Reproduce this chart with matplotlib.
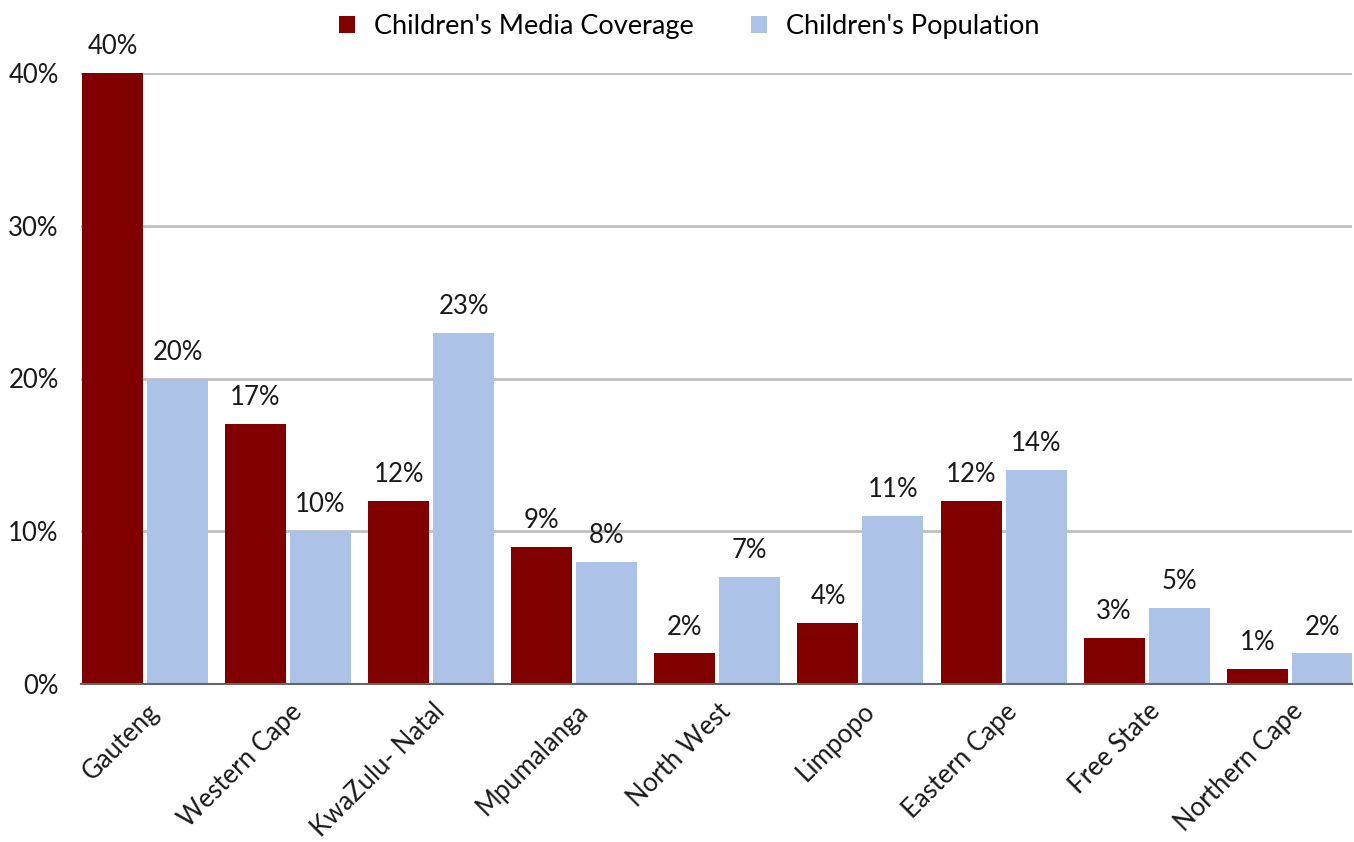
import numpy as np
import matplotlib.pyplot as plt
import matplotlib.transforms as mtransforms

provinces = ["Gauteng", "Western Cape", "KwaZulu- Natal", "Mpumalanga", "North West",
             "Limpopo", "Eastern Cape", "Free State", "Northern Cape"]
media_coverage = [40, 17, 12, 9, 2, 4, 12, 3, 1]
population = [20, 10, 23, 8, 7, 11, 14, 5, 2]
y_ticks = [0, 10, 20, 30, 40]

RED = "#800000"
BLUE = "#acc2e6"
TXT = "#1a1a1a"
FS = 18.5
plt.rcParams['font.family'] = ['Lato', 'DejaVu Sans']

fig = plt.figure(figsize=(13.54, 8.42), dpi=100)
ax = fig.add_axes([81 / 1354, 1 - 684 / 842, 1271 / 1354, 611 / 842])

x = np.arange(len(provinces))
w = 0.426
off = 0.227
b1 = ax.bar(x - off, media_coverage, w, color=RED, label="Children's Media Coverage", zorder=3)
b2 = ax.bar(x + off, population, w, color=BLUE, label="Children's Population", zorder=3)

# value labels above each bar
for bars, vals in [(b1, media_coverage), (b2, population)]:
    for bar, v in zip(bars, vals):
        ax.annotate(f"{v}%", (bar.get_x() + bar.get_width() / 2, v),
                    xytext=(0, 19), textcoords="offset points",
                    ha="center", va="center", fontsize=FS, color=TXT,
                    clip_on=False)

ax.set_xlim(-0.447, 8.435)
ax.set_ylim(0, 40)
ax.set_yticks(y_ticks)
ax.set_yticklabels([f"{t}%" for t in y_ticks], fontsize=FS, color=TXT)
ax.yaxis.grid(True, color="#c0c0c0", linewidth=2, zorder=0)
ax.tick_params(axis="y", length=0, pad=16)
ax.tick_params(axis="x", length=0, pad=2)

ax.set_xticks(x)
ax.set_xticklabels(provinces, rotation=45, ha="right", rotation_mode="anchor",
                   fontsize=FS, color=TXT)
shift = mtransforms.ScaledTranslation(1 / 100, -12 / 100, fig.dpi_scale_trans)
for lbl in ax.get_xticklabels():
    lbl.set_transform(lbl.get_transform() + shift)

for s in ["top", "right", "left"]:
    ax.spines[s].set_visible(False)
ax.spines["bottom"].set_color("#666666")
ax.spines["bottom"].set_linewidth(1.5)
ax.spines["bottom"].set_zorder(4)

fig.legend(loc="upper center", bbox_to_anchor=(0.509, 1.012), ncol=2, frameon=False,
           fontsize=19.5, handlelength=0.6, handleheight=0.6, columnspacing=2.1,
           handletextpad=0.7)

fig.savefig("out.png", dpi=100)
